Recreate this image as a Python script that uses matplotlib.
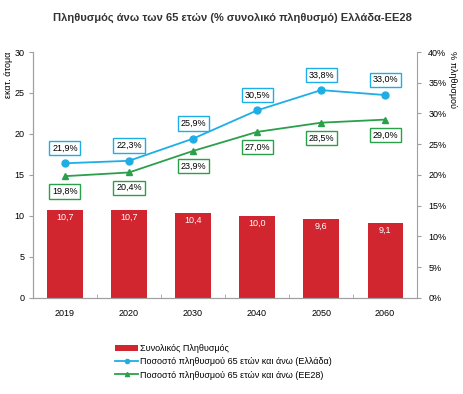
import matplotlib.pyplot as plt
import numpy as np

plt.rcParams['font.family'] = ['Liberation Sans', 'DejaVu Sans']

years = ["2019", "2020", "2030", "2040", "2050", "2060"]
population = [10.7, 10.7, 10.4, 10.0, 9.6, 9.1]
greece_pct = [21.9, 22.3, 25.9, 30.5, 33.8, 33.0]
eu28_pct = [19.8, 20.4, 23.9, 27.0, 28.5, 29.0]

red = "#d1262f"
blue = "#1eaee6"
green = "#2ba04b"
grey = "#a0a0a0"

fig = plt.figure(figsize=(4.64, 3.94), dpi=100)
ax = fig.add_axes([0.071, 0.244, 0.828, 0.624])
ax2 = ax.twinx()

x = np.arange(len(years))
bars = ax.bar(x, population, width=0.55, color=red, label="Συνολικός Πληθυσμός", zorder=2)
for xi, v in zip(x, population):
    ax.text(xi, v - 0.9, f"{v:.1f}".replace(".", ","), ha="center", va="center",
            color="white", fontsize=6.5)

ax.set_xlim(-0.5, len(years) - 0.5)
ax.set_ylim(0, 30)
ax.set_yticks(range(0, 31, 5))
ax.set_xticks(x)
ax.set_xticklabels(years)
ax.set_xticks(np.arange(-0.5, len(years), 1), minor=True)
ax.tick_params(axis="x", which="major", length=0, pad=8, labelsize=6.5)
ax.tick_params(axis="x", which="minor", length=3, color=grey, direction="in")
ax.tick_params(axis="y", length=3, color=grey, labelsize=6.5, pad=3)

ln1, = ax2.plot(x, greece_pct, color=blue, marker="o", markersize=5, lw=1.3,
                label="Ποσοστό πληθυσμού 65 ετών και άνω (Ελλάδα)", zorder=3)
ln2, = ax2.plot(x, eu28_pct, color=green, marker="^", markersize=5, lw=1.3,
                label="Ποσοστό πληθυσμού 65 ετών και άνω (ΕΕ28)", zorder=3)
ax2.set_ylim(0, 40)
ax2.set_yticks(range(0, 41, 5))
ax2.set_yticklabels([f"{t}%" for t in range(0, 41, 5)])
ax2.tick_params(axis="y", length=3, color=grey, labelsize=6.5, pad=5)

for xi, v in zip(x, greece_pct):
    ax2.annotate(f"{v:.1f}%".replace(".", ","), (xi, v), xytext=(0, 11),
                 textcoords="offset points", ha="center", va="center", fontsize=6.5,
                 bbox=dict(boxstyle="square,pad=0.3", fc="white", ec=blue, lw=1))
for xi, v in zip(x, eu28_pct):
    ax2.annotate(f"{v:.1f}%".replace(".", ","), (xi, v), xytext=(0, -11),
                 textcoords="offset points", ha="center", va="center", fontsize=6.5,
                 bbox=dict(boxstyle="square,pad=0.3", fc="white", ec=green, lw=1))

for a in (ax, ax2):
    a.spines["top"].set_visible(False)
    for s in ("left", "right", "bottom"):
        a.spines[s].set_color(grey)
ax.spines["right"].set_visible(False)

fig.text(0.5, 0.955, "Πληθυσμός άνω των 65 ετών (% συνολικό πληθυσμό) Ελλάδα-ΕΕ28",
         ha="center", va="center", fontsize=8, fontweight="bold", color="#333333")
fig.text(0.008, 0.87, "εκατ. άτομα", rotation=90, ha="left", va="top", fontsize=6.5)
fig.text(0.975, 0.87, "% πληθυσμού", rotation=270, ha="center", va="top", fontsize=6.5)

fig.legend(handles=[bars, ln1, ln2], loc="upper left", bbox_to_anchor=(0.24, 0.135),
           frameon=False, fontsize=6.5, handlelength=2.6, handletextpad=0.2,
           labelspacing=0.45, borderaxespad=0, markerscale=0.6)

fig.savefig("out.png", dpi=100)
